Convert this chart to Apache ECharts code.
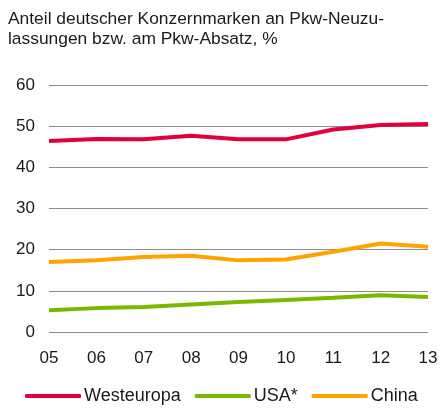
<!DOCTYPE html>
<html>
<head>
<meta charset="utf-8">
<script src="https://cdn.jsdelivr.net/npm/echarts@6/dist/echarts.min.js"></script>
<style>
  html, body { margin: 0; padding: 0; background: #fff; }
  #chart { width: 441px; height: 410px; }
</style>
</head>
<body>
<div id="chart"></div>
<script>
// Jahre
var years = ['05', '06', '07', '08', '09', '10', '11', '12', '13'];
// Anteile in %
var westeuropa = [46.4, 46.9, 46.8, 47.7, 46.8, 46.8, 49.2, 50.3, 50.5];
var usa = [5.3, 5.8, 6.1, 6.7, 7.3, 7.8, 8.3, 8.9, 8.5];
var china = [17.0, 17.4, 18.2, 18.5, 17.4, 17.6, 19.5, 21.5, 20.7];
var yTicks = [0, 10, 20, 30, 40, 50, 60];

var font = 'Liberation Sans, Arial, sans-serif';

function line(name, data, color) {
    return {
        name: name,
        type: 'line',
        data: data,
        symbol: 'none',
        smooth: false,
        lineStyle: { color: color, width: 4 },
        itemStyle: { color: color }
    };
}

var chart = echarts.init(document.getElementById('chart'));
chart.setOption({
    animation: false,
    backgroundColor: '#fff',
    title: {
        text: 'Anteil deutscher Konzernmarken an Pkw-Neuzu-\nlassungen bzw. am Pkw-Absatz, %',
        left: 3,
        top: 4,
        textStyle: {
            fontFamily: font,
            fontSize: 17.4,
            fontWeight: 'normal',
            color: '#1a1a1a',
            lineHeight: 20
        }
    },
    grid: { left: 49, right: 13, top: 85, bottom: 78 },
    legend: {
        top: 387,
        left: 25,
        padding: 0,
        itemWidth: 56,
        itemHeight: 4,
        itemGap: 14,
        icon: 'roundRect',
        textStyle: { fontFamily: font, fontSize: 18, color: '#1a1a1a', padding: [0, 0, 0, -2] },
        data: ['Westeuropa', 'USA*', 'China']
    },
    xAxis: {
        type: 'category',
        data: years,
        boundaryGap: false,
        axisLine: { show: false },
        axisTick: { show: false },
        axisLabel: { fontFamily: font, fontSize: 17, color: '#1a1a1a', margin: 18 }
    },
    yAxis: {
        type: 'value',
        min: yTicks[0],
        max: yTicks[yTicks.length - 1],
        interval: 10,
        axisLine: { show: false },
        axisTick: { show: false },
        axisLabel: { fontFamily: font, fontSize: 17, color: '#1a1a1a', margin: 14 },
        splitLine: { show: true, lineStyle: { color: '#8c8c8c', width: 1 } }
    },
    series: [
        line('Westeuropa', westeuropa, '#e2003c'),
        line('USA*', usa, '#7ab800'),
        line('China', china, '#ffa300')
    ]
});
</script>
</body>
</html>
